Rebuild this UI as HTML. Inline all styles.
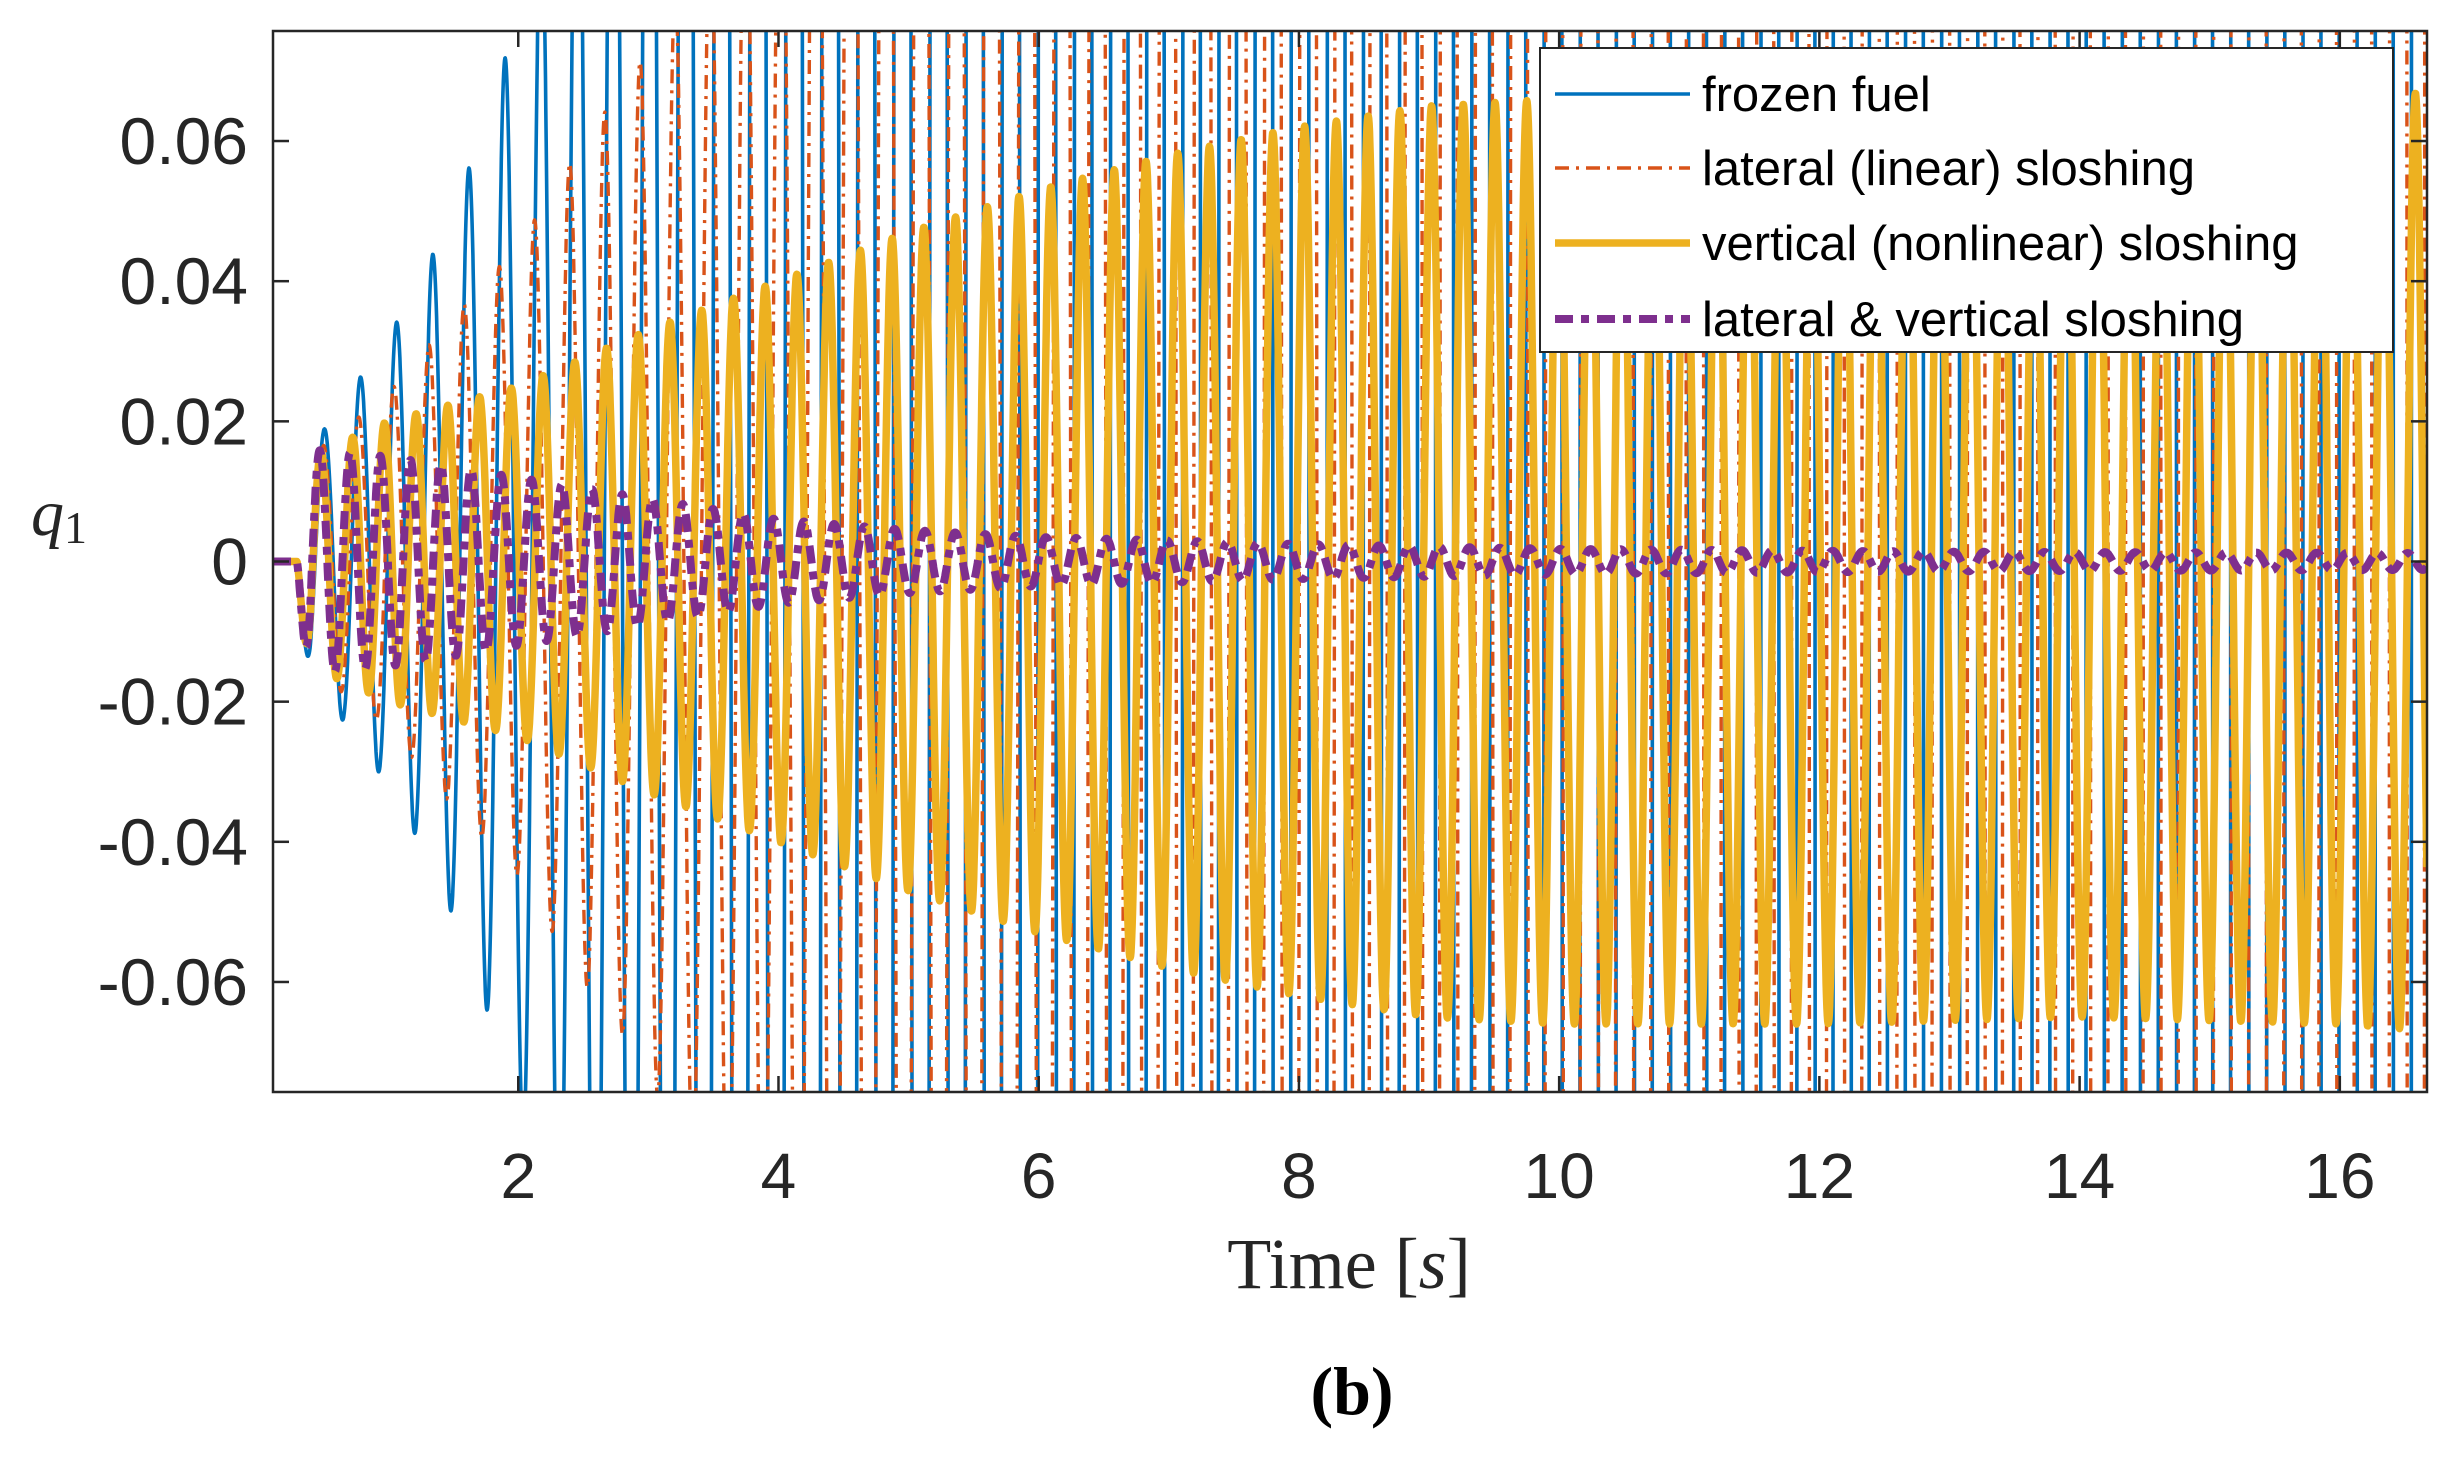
<!DOCTYPE html>
<html><head><meta charset="utf-8">
<style>
html,body{margin:0;padding:0;background:#fff;width:2463px;height:1463px;overflow:hidden;}
svg{display:block;}
</style></head>
<body>
<svg id="chart" width="2463" height="1463" viewBox="0 0 2463 1463" xmlns="http://www.w3.org/2000/svg">
  <defs><clipPath id="plotclip"><rect x="273" y="31" width="2154" height="1061"/></clipPath></defs>
  <rect x="0" y="0" width="2463" height="1463" fill="#fff"/>
  <g id="series" clip-path="url(#plotclip)"></g>
  <g id="axes"></g>
  <text x="31" y="535" font-family="Liberation Serif, serif" font-style="italic" font-size="66" fill="#262626">q<tspan font-style="normal" font-size="46" dy="8">1</tspan></text>
  <text x="1349" y="1288" text-anchor="middle" font-family="Liberation Serif, serif" font-size="72" fill="#262626">Time [<tspan font-style="italic">s</tspan>]</text>
  <text x="1352" y="1414" text-anchor="middle" font-family="Liberation Serif, serif" font-weight="bold" font-size="68" fill="#000">(b)</text>
  <g id="legend"></g>
</svg>
<script>
// ---- data ----
const xTicks = [2,4,6,8,10,12,14,16];
const yTicks = [-0.06,-0.04,-0.02,0,0.02,0.04,0.06];
const yTickLabels = ["-0.06","-0.04","-0.02","0","0.02","0.04","0.06"];
const seriesNames = ["frozen fuel","lateral (linear) sloshing","vertical (nonlinear) sloshing","lateral & vertical sloshing"];
const frozenKnotT = [0.25,0.4,0.7,1.0,1.3,1.6,1.9,2.2,2.6,3.0,17];
const frozenEnv   = [0,0.016,0.024,0.032,0.042,0.055,0.072,0.095,0.14,0.2,5];
const frozenFreq  = [3.6];
const lateralKnotT = [0.25,0.4,1.0,1.5,2.0,2.5,2.9,3.3,4.0,17];
const lateralEnv   = [0,0.015,0.024,0.035,0.045,0.06,0.07,0.085,0.12,3];
const lateralFreq  = [3.7];
const verticalKnotT = [0.25,0.4,1,2,3,4,5,6,7,8,9,10,12,14,16,16.7];
const verticalEnv   = [0,0.015,0.02,0.025,0.033,0.04,0.047,0.053,0.058,0.062,0.065,0.066,0.066,0.065,0.066,0.067];
const verticalFreq  = [4.1];
const bothKnotT = [0.25,0.4,1,2,3,4,5,6,8,10,13,16.7];
const bothEnv   = [0,0.016,0.015,0.012,0.009,0.006,0.0045,0.0035,0.0025,0.0018,0.0014,0.0012];
const bothFreq  = [4.3];

// ---- axes ----
const X0=273, X1=2427, Y0=31, Y1=1092;
const xMin=0.115, xMax=16.67, yMin=-0.0757, yMax=0.0757;
const sx = v => X0 + (v-xMin)/(xMax-xMin)*(X1-X0);
const sy = v => Y1 - (v-yMin)/(yMax-yMin)*(Y1-Y0);
const NS="http://www.w3.org/2000/svg";
function mk(tag, attrs, parent){const e=document.createElementNS(NS,tag);for(const k in attrs)e.setAttribute(k,attrs[k]);parent.appendChild(e);return e;}

function envAt(ts, es, t){
  if(t<=ts[0]) return 0;
  for(let i=1;i<ts.length;i++){ if(t<=ts[i]){const f=(t-ts[i-1])/(ts[i]-ts[i-1]);return es[i-1]+f*(es[i]-es[i-1]);} }
  return es[es.length-1];
}
function buildPath(ts, es, f){
  let d="";
  const t0=0.3;
  for(let t=xMin;t<=xMax;t+=0.003){
    let v=0;
    if(t>t0) v = -envAt(ts,es,t)*Math.sin(2*Math.PI*f*(t-t0));
    let yy=Math.max(-1,Math.min(1,v));
    d += (d?"L":"M")+sx(t).toFixed(1)+","+sy(yy).toFixed(1);
  }
  return d;
}
const sg=document.getElementById('series');
const styles=[
  {ts:frozenKnotT,es:frozenEnv,f:frozenFreq[0],c:"#0072BD",w:3.6,da:"",n:"frozen-fuel-line"},
  {ts:lateralKnotT,es:lateralEnv,f:lateralFreq[0],c:"#D95319",w:3.4,da:"14 7 3 7",n:"lateral-sloshing-line"},
  {ts:verticalKnotT,es:verticalEnv,f:verticalFreq[0],c:"#EDB120",w:7.5,da:"",n:"vertical-sloshing-line"},
  {ts:bothKnotT,es:bothEnv,f:bothFreq[0],c:"#7E2F8E",w:8,da:"18 8 8 8",n:"lateral-vertical-sloshing-line"}
];
styles.forEach(s=>{
  const p=mk('path',{d:buildPath(s.ts,s.es,s.f),fill:"none",stroke:s.c,"stroke-width":s.w,"stroke-dasharray":s.da,"stroke-linejoin":"round"},sg);
  
  
});

const ax=document.getElementById('axes');
const box=mk('rect',{x:X0,y:Y0,width:X1-X0,height:Y1-Y0,fill:"none",stroke:"#262626","stroke-width":2.5},ax);


xTicks.forEach(v=>{
  const x=sx(v);
  mk('line',{x1:x,y1:Y1,x2:x,y2:Y1-16,stroke:"#262626","stroke-width":2.5},ax);
  mk('line',{x1:x,y1:Y0,x2:x,y2:Y0+16,stroke:"#262626","stroke-width":2.5},ax);
  const t=mk('text',{x:x,y:1198,"text-anchor":"middle","font-family":"Liberation Sans, sans-serif","font-size":64,fill:"#262626"},ax);
  t.textContent=String(v);
  
  
});
yTicks.forEach((v,i)=>{
  const y=sy(v);
  mk('line',{x1:X0,y1:y,x2:X0+16,y2:y,stroke:"#262626","stroke-width":2.5},ax);
  mk('line',{x1:X1,y1:y,x2:X1-16,y2:y,stroke:"#262626","stroke-width":2.5},ax);
  const t=mk('text',{x:248,y:y+23,"text-anchor":"end","font-family":"Liberation Sans, sans-serif","font-size":66,fill:"#262626"},ax);
  t.textContent=yTickLabels[i];
  
  
});

// ---- legend ----
const lg=document.getElementById('legend');
const lbox=mk('rect',{x:1540,y:48,width:853,height:304,fill:"#fff",stroke:"#262626","stroke-width":2},lg);


const ly=[94,168,243,319];
seriesNames.forEach((nm,i)=>{
  const s=styles[i];
  const l=mk('line',{x1:1555,y1:ly[i],x2:1690,y2:ly[i],stroke:s.c,"stroke-width":s.w,"stroke-dasharray":s.da},lg);
  
  
  const t=mk('text',{x:1702,y:ly[i]+17,"font-family":"Liberation Sans, sans-serif","font-size":49,fill:"#000"},lg);
  t.textContent=nm;
  
  
});
</script>
</body></html>
